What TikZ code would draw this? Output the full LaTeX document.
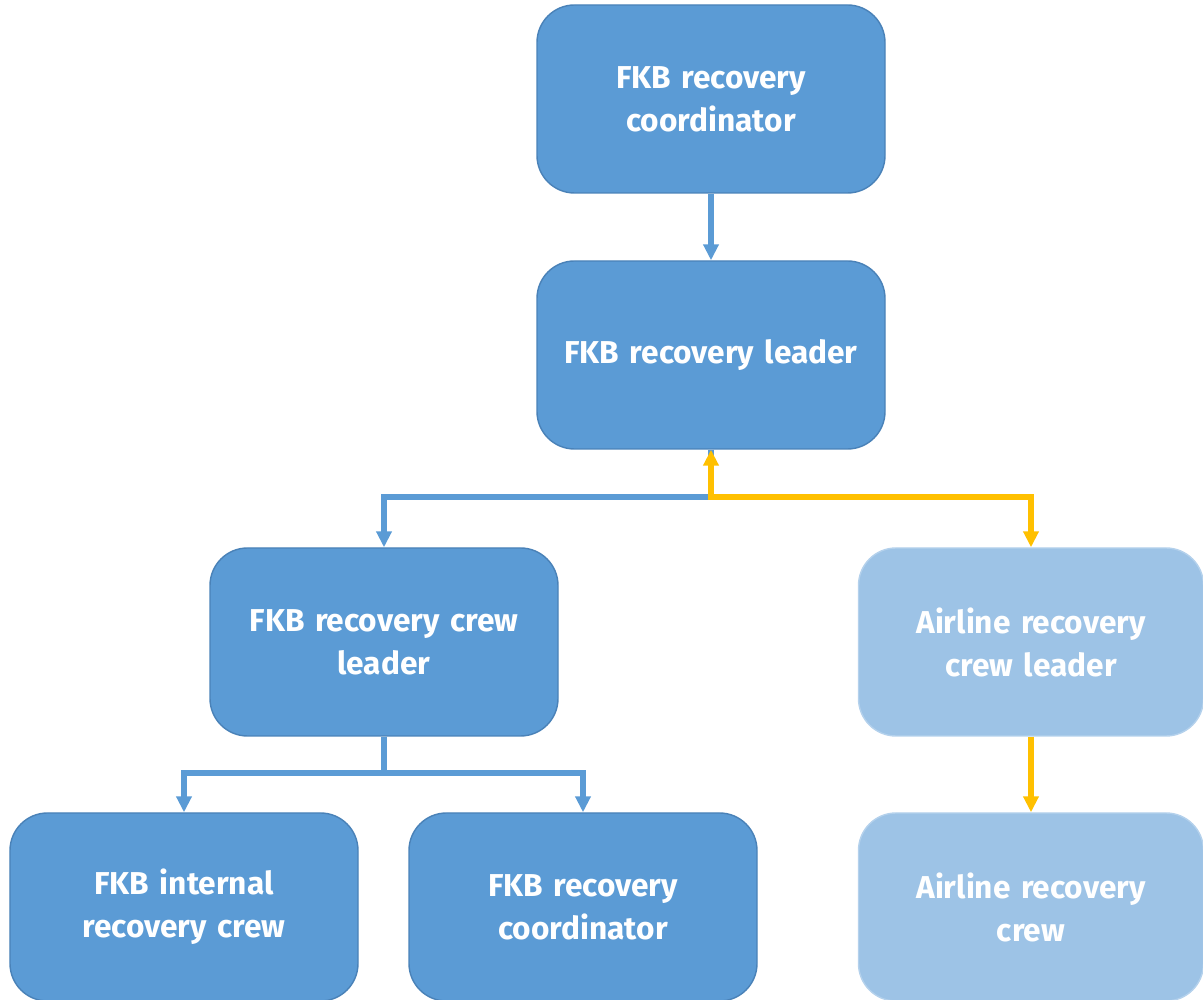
\documentclass[tikz,border=0pt]{standalone}
\usepackage{fontspec}
\usepackage{tikz}
\setmainfont{Fira Sans}
\usetikzlibrary{positioning, calc, shapes, arrows.meta}
\definecolor{boxblue}{HTML}{5B9BD5}
\definecolor{boxedge}{HTML}{4A82B8}
\definecolor{lightblue}{HTML}{9DC3E6}
\definecolor{lightedge}{HTML}{B4D1EC}
\definecolor{lineyellow}{HTML}{FFC000}
\tikzstyle{BlueArrow} = [
%blue connector with a solid head
line width = 3.2pt, draw = boxblue,
-{Triangle[width = 0.3cm, length = 0.32cm]}
]
\tikzstyle{YellowArrow} = [
line width = 3.2pt, draw = lineyellow,
-{Triangle[width = 0.3cm, length = 0.32cm]}
]
\tikzstyle{YellowBoth} = [
YellowArrow,
{Triangle[width = 0.3cm, length = 0.32cm]}-{Triangle[width = 0.3cm, length = 0.32cm]}
]

\begin{document}
\begin{tikzpicture}[
				fkb/.style = {rectangle, rounded corners = 0.75cm, draw = boxedge, line width = 0.8pt, fill = boxblue, text = white, text centered, text width = 6.6cm, minimum width = 6.96cm, minimum height = 3.76cm, font = \fontsize{18}{24.5}\selectfont\bfseries},
				airline/.style = {fkb, draw = lightedge, fill = lightblue, minimum width = 6.9cm},
			]
			\useasboundingbox (0,0) rectangle (24.06,20);

			\node[fkb](coord) at (14.22,18.02){FKB recovery\\coordinator};
			\node[fkb](lead) at (14.22,12.9){FKB recovery leader};
			\node[fkb](crewlead) at (7.68,7.16){FKB recovery crew\\leader};
			\node[airline](alead) at (20.62,7.16){Airline recovery\\crew leader};
			\node[fkb](internal) at (3.68,1.86){FKB internal\\recovery crew};
			\node[fkb](coord2) at (11.66,1.86){FKB recovery\\coordinator};
			\node[airline](acrew) at (20.62,1.86){Airline recovery\\crew};

			\coordinate(split) at (14.22,10.06);
			\coordinate(fork) at (7.68,4.54);

			\draw[BlueArrow](coord)--(lead);
			\draw[BlueArrow](lead.south)--(split)-|(crewlead.north);
			\draw[YellowBoth](lead.south)--(split)-|(alead.north);
			\draw[BlueArrow](crewlead.south)--(fork)-|(internal.north);
			\draw[BlueArrow](fork)-|(coord2.north);
			\draw[YellowArrow](alead)--(acrew);

		\end{tikzpicture}
\end{document}
